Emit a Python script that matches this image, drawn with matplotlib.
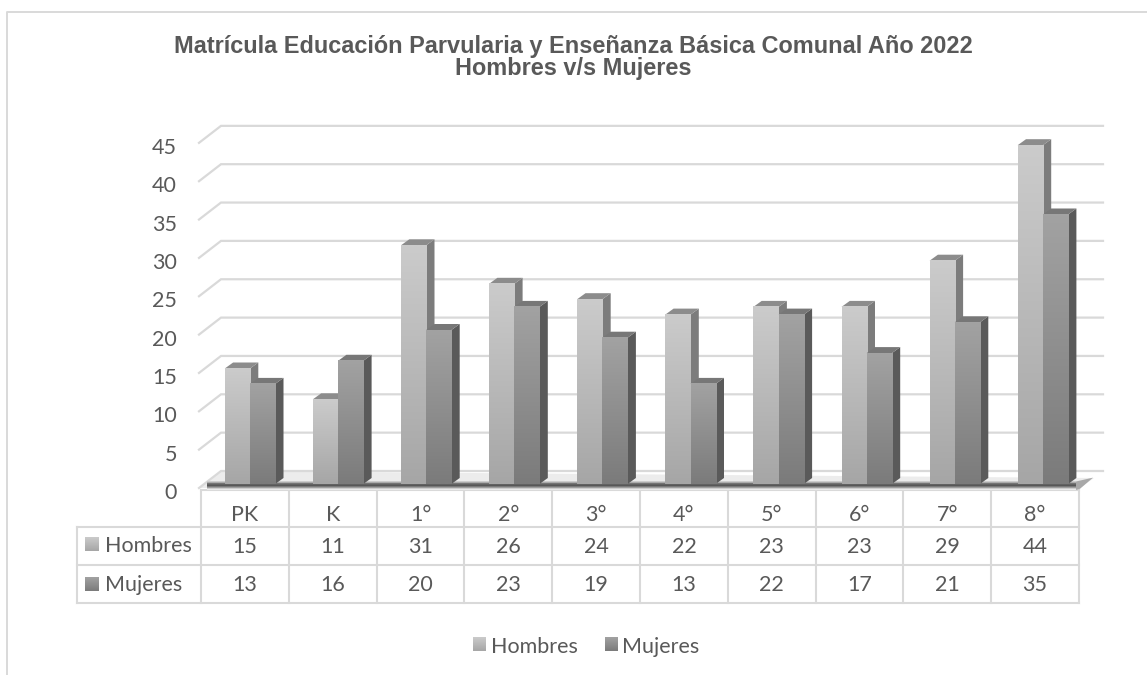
import matplotlib
matplotlib.use("Agg")
import matplotlib.pyplot as plt
import numpy as np
from matplotlib.patches import Polygon

# Data
categories = ["PK", "K", "1°", "2°", "3°", "4°", "5°", "6°", "7°", "8°"]
hombres = [15, 11, 31, 26, 24, 22, 23, 23, 29, 44]
mujeres = [13, 16, 20, 23, 19, 13, 22, 17, 21, 35]
y_ticks = [0, 5, 10, 15, 20, 25, 30, 35, 40, 45]

W, H = 1147, 675
TEXT = "#595959"
LINE = "#d9d9d9"
H_FRONT = ("#cbcbcb", "#a6a6a6")
M_FRONT = ("#a2a2a2", "#7b7b7b")
plt.rcParams["font.family"] = ["Lato", "DejaVu Sans"]

fig = plt.figure(figsize=(W / 100, H / 100), dpi=100)

# Page axes in pixels, for the frame, table lines and legend swatches
page = fig.add_axes([0, 0, 1, 1], zorder=1)
page.set_xlim(0, W)
page.set_ylim(H, 0)
page.set_autoscale_on(False)
page.axis("off")

# Value axes: x in categories, y in values
X0, XSTEP = 250.0, 88.1
Y0, YSTEP = 484.0, 7.70
G0, GSTEP = 488.0, 7.67


def px(x):
    return (x - X0) / XSTEP


def make_axes(zero_px, step, z):
    a = fig.add_axes([0, 0, 1, 1], zorder=z)
    a.set_xlim(px(0), px(W))
    a.set_ylim((zero_px - H) / step, zero_px / step)
    a.set_autoscale_on(False)
    a.axis("off")
    a.patch.set_alpha(0)
    return a


def ramp(top, bottom):
    g = np.linspace(0, 1, 64)[:, None, None]
    a = np.array(matplotlib.colors.to_rgb(top))[None, None, :]
    b = np.array(matplotlib.colors.to_rgb(bottom))[None, None, :]
    return a * (1 - g) + b * g


grid_ax = make_axes(G0, GSTEP, 2)
ax = make_axes(Y0, YSTEP, 3)

# Back wall gridlines and value labels
left, back, right = px(199), px(221), px(1103)
rise = 17 / GSTEP
label_shift = 5 / GSTEP
for v in y_ticks:
    grid_ax.plot([left, back, right], [v, v + rise, v + rise], color=LINE, lw=1.6,
                 solid_joinstyle="miter")
    grid_ax.text(px(177), v - label_shift, str(v), ha="right", va="center", fontsize=15.5,
                 color=TEXT)

# Floor and its shadow
grid_ax.add_patch(Polygon([[left, 0], [back, rise], [px(1094), 10 / GSTEP], [px(1080), 0]],
                          closed=True, color="#ececec", lw=0))
shade = np.array([[0.80], [0.42], [0.34], [0.58], [0.92]])
grid_ax.imshow(shade, cmap="gray", vmin=0, vmax=1, aspect="auto", zorder=3,
               extent=[px(207), px(1076), -0.25, 0.85], interpolation="bilinear")
grid_ax.add_patch(Polygon([[px(1076), 0.85], [px(1093), 1.35], [px(1080), -0.1], [px(1076), -0.25]],
                          closed=True, color="#a8a8a8", lw=0, zorder=3))

# Bars
BAR_W = 25.2 / XSTEP
DX = 8.3 / XSTEP
DY = 6.0 / YSTEP


def draw_bar(x, v, front, side, roof, z):
    ax.add_patch(Polygon([[x + BAR_W, 0], [x + BAR_W + DX, DY], [x + BAR_W + DX, v + DY], [x + BAR_W, v]],
                         closed=True, color=side, lw=0, zorder=z))
    ax.add_patch(Polygon([[x, v], [x + DX, v + DY], [x + BAR_W + DX, v + DY], [x + BAR_W, v]],
                         closed=True, color=roof, lw=0, zorder=z))
    ax.imshow(ramp(*front), extent=[x, x + BAR_W, 0, v], aspect="auto", zorder=z + 0.1,
              interpolation="bilinear")


for i in range(len(categories)):
    z = 5 + i
    draw_bar(i - BAR_W, hombres[i], H_FRONT, "#7c7c7c", "#8c8c8c", z)
    draw_bar(i, mujeres[i], M_FRONT, "#5a5a5a", "#777777", z + 0.3)

# Frame, open on the right
page.plot([7, 7, W], [H, 12, 12], color=LINE, lw=1.4)

# Data table
col0, col1, cstep = 77, 201, 87.8
rows = [490, 526.5, 564.5, 603]
xs = [col1 + cstep * k for k in range(len(categories) + 1)]
for yy in rows:
    page.plot([col1 if yy == rows[0] else col0, xs[-1]], [yy, yy], color=LINE, lw=1.5)
for xx in xs:
    page.plot([xx, xx], [rows[0], rows[3]], color=LINE, lw=1.5)
page.plot([col0, col0], [rows[1], rows[3]], color=LINE, lw=1.5)


def row_text(x, y, s, ha="center"):
    page.text(x, y, s, ha=ha, va="center", fontsize=15.5, color=TEXT)


def swatch(x, y, w, colors):
    page.imshow(ramp(*colors), extent=[x, x + w, y + 14, y], aspect="auto",
                interpolation="bilinear")


for k, c in enumerate(categories):
    cx = col1 + cstep * (k + 0.5)
    row_text(cx, 515, c)
    row_text(cx, 547, str(hombres[k]))
    row_text(cx, 585, str(mujeres[k]))

swatch(85, 537, 14, H_FRONT)
swatch(85, 577, 14, M_FRONT)
row_text(105, 546, "Hombres", ha="left")
row_text(105, 585, "Mujeres", ha="left")

# Legend
swatch(473, 637, 13, H_FRONT)
swatch(605, 637, 13, M_FRONT)
row_text(491, 647, "Hombres", ha="left")
row_text(622, 647, "Mujeres", ha="left")

# Title
page.text(573.5, 46, "Matrícula Educación Parvularia y Enseñanza Básica Comunal Año 2022",
          ha="center", va="center", fontsize=16.9, fontweight="bold", color=TEXT,
          family="Liberation Sans")
page.text(573.5, 68, "Hombres v/s Mujeres", ha="center", va="center", fontsize=16.9,
          fontweight="bold", color=TEXT, family="Liberation Sans")

fig.savefig("out.png", dpi=100)
